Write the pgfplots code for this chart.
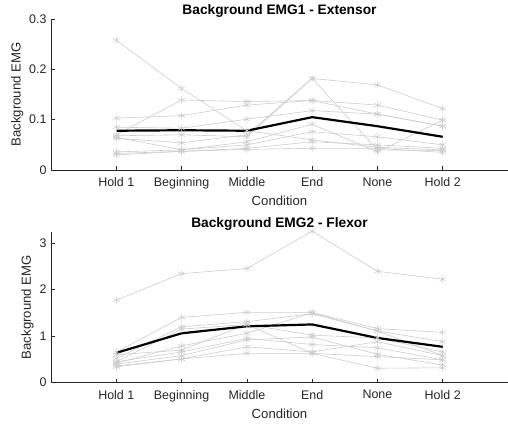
\documentclass[border=0pt]{standalone}
\usepackage{pgfplots}
\pgfplotsset{compat=1.18}
\usepackage{fontspec}
\setmainfont{Liberation Sans}
\definecolor{subj}{rgb}{0.8,0.8,0.8}
\definecolor{axc}{rgb}{0.15,0.15,0.15}
\pgfplotsset{
  emgaxis/.style={
    scale only axis, width=457bp, height=151bp,
    anchor=south west,
    xmin=0, xmax=7, ymin=0,
    axis x line=bottom, axis y line=left,
    axis line style={axc, line width=0.6pt, -},
    tick align=inside, tick style={axc, line width=0.6pt},
    major tick length=4bp,
    xtick={1,2,3,4,5,6},
    xticklabels={Hold 1,Beginning,Middle,End,None,Hold 2},
    tick label style={font=\fontsize{12.5}{14}\selectfont, text=axc},
    xticklabel style={yshift=-4bp},
    yticklabel style={xshift=-1bp},
    /pgf/number format/assume math mode=true,
    label style={font=\fontsize{13.2}{15}\selectfont, text=axc},
    title style={font=\fontsize{13.8}{16}\selectfont\bfseries, yshift=-8bp},
    xlabel={Condition}, ylabel={Background EMG},
    xlabel style={yshift=0bp},
    ylabel style={yshift=-1bp},
    clip=false,
  },
  subjline/.style={subj, line width=0.6pt, mark=asterisk, mark size=3.8bp, mark options={subj, line width=0.5pt}},
  meanline/.style={black, line width=2.2pt, no marks},
}
\begin{document}
\begin{tikzpicture}[x=1bp,y=1bp]
\path[use as bounding box] (0,0) rectangle (508,426);
\begin{axis}[emgaxis, at={(51bp,256bp)}, ymax=0.3,
  ytick={0,0.1,0.2,0.3}, yticklabels={0,0.1,0.2,0.3},
  title={Background EMG1 - Extensor}]
\addplot[subjline] coordinates {(1,0.258) (2,0.162) (3,0.078) (4,0.060) (5,0.045) (6,0.040)};
\addplot[subjline] coordinates {(1,0.103) (2,0.108) (3,0.129) (4,0.138) (5,0.111) (6,0.087)};
\addplot[subjline] coordinates {(1,0.070) (2,0.139) (3,0.136) (4,0.138) (5,0.129) (6,0.099)};
\addplot[subjline] coordinates {(1,0.085) (2,0.083) (3,0.101) (4,0.118) (5,0.111) (6,0.087)};
\addplot[subjline] coordinates {(1,0.063) (2,0.054) (3,0.070) (4,0.182) (5,0.169) (6,0.122)};
\addplot[subjline] coordinates {(1,0.065) (2,0.040) (3,0.056) (4,0.091) (5,0.036) (6,0.099)};
\addplot[subjline] coordinates {(1,0.036) (2,0.040) (3,0.050) (4,0.076) (5,0.066) (6,0.050)};
\addplot[subjline] coordinates {(1,0.033) (2,0.037) (3,0.043) (4,0.056) (5,0.050) (6,0.043)};
\addplot[subjline] coordinates {(1,0.030) (2,0.037) (3,0.041) (4,0.043) (5,0.043) (6,0.035)};
\addplot[subjline] coordinates {(1,0.068) (2,0.070) (3,0.066) (4,0.182) (5,0.040) (6,0.039)};
\addplot[meanline] coordinates {(1,0.078) (2,0.079) (3,0.078) (4,0.105) (5,0.087) (6,0.066)};
\end{axis}
\begin{axis}[emgaxis, at={(51bp,43.3bp)}, ymax=3.24,
  ytick={0,1,2,3},
  title={Background EMG2 - Flexor}]
\addplot[subjline] coordinates {(1,1.77) (2,2.34) (3,2.45) (4,3.25) (5,2.39) (6,2.22)};
\addplot[subjline] coordinates {(1,0.66) (2,1.40) (3,1.51) (4,1.51) (5,1.16) (6,1.08)};
\addplot[subjline] coordinates {(1,0.52) (2,1.20) (3,1.31) (4,1.48) (5,1.11) (6,0.88)};
\addplot[subjline] coordinates {(1,0.45) (2,1.15) (3,1.25) (4,1.02) (5,0.96) (6,0.66)};
\addplot[subjline] coordinates {(1,0.42) (2,0.79) (3,1.06) (4,1.50) (5,1.11) (6,0.58)};
\addplot[subjline] coordinates {(1,0.45) (2,0.66) (3,0.95) (4,0.82) (5,0.75) (6,0.49)};
\addplot[subjline] coordinates {(1,0.40) (2,0.58) (3,0.92) (4,0.98) (5,0.61) (6,0.38)};
\addplot[subjline] coordinates {(1,0.34) (2,0.51) (3,0.77) (4,0.66) (5,0.88) (6,0.58)};
\addplot[subjline] coordinates {(1,0.36) (2,0.51) (3,0.63) (4,0.63) (5,0.31) (6,0.32)};
\addplot[subjline] coordinates {(1,0.60) (2,0.70) (3,1.25) (4,0.63) (5,0.56) (6,0.49)};
\addplot[meanline] coordinates {(1,0.64) (2,1.06) (3,1.21) (4,1.25) (5,0.96) (6,0.77)};
\end{axis}
\end{tikzpicture}
\end{document}
